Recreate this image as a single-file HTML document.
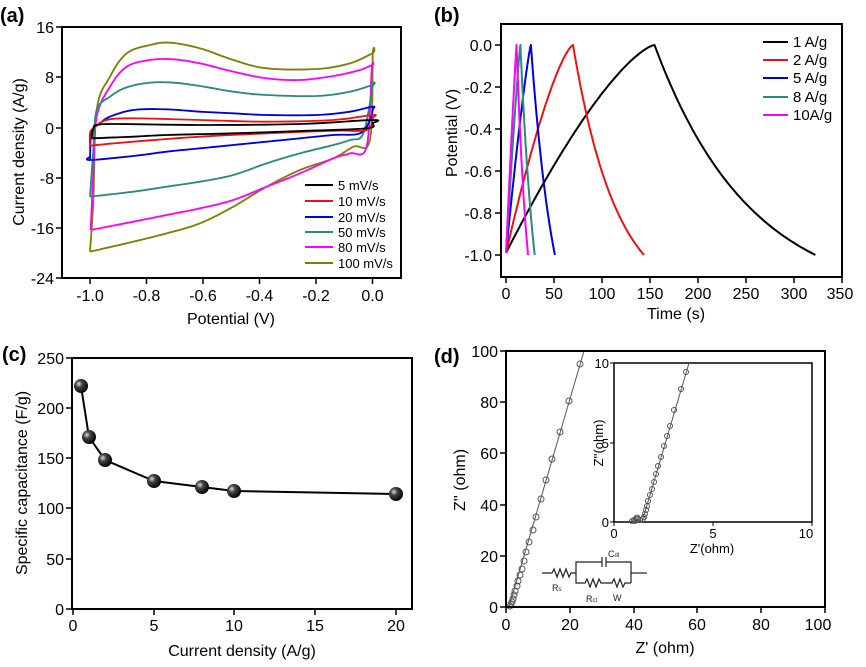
<!DOCTYPE html>
<html><head><meta charset="utf-8"><style>
html,body{margin:0;padding:0;background:#fff;}
svg{display:block;font-family:"Liberation Sans",Arial,sans-serif;}
</style></head><body>
<svg id="s" width="866" height="667" viewBox="0 0 866 667" xmlns="http://www.w3.org/2000/svg">
<!-- ============ (a) ============ -->
<text x="0" y="22" font-size="20" font-weight="bold">(a)</text>
<g fill="none" stroke-linejoin="round" stroke-width="5.5" transform="scale(0.33333)">
<polyline class="sm" stroke="#808000" points="270,755 280,600 290,330 330,230 380,160 450,135 510,128 600,145 700,180 800,205 950,207 1050,190 1118,160 1118,165 1110,420 1060,440 1000,475 900,510 800,560 700,620 600,670 500,700 400,725 270,755"/>
<polyline class="sm" stroke="#ff00ff" points="272,690 280,520 290,350 330,260 380,200 450,180 520,178 600,190 700,215 800,235 900,240 1000,228 1080,210 1118,195 1115,210 1100,440 1050,460 1000,475 900,520 800,560 700,600 600,625 500,645 400,665 272,690"/>
<polyline class="sm" stroke="#2a8a80" points="270,590 280,450 290,330 330,290 380,262 450,248 520,248 600,258 700,275 800,285 950,288 1050,275 1118,255 1118,260 1090,400 1050,420 1000,435 900,460 800,490 700,525 600,545 500,560 400,575 270,590"/>
<polyline class="sm" stroke="#0000dd" points="270,480 275,395 300,370 330,350 400,330 500,328 600,335 700,340 800,345 950,345 1050,335 1118,320 1118,330 1110,360 1080,400 1000,405 900,415 800,425 700,435 600,445 500,455 400,468 270,480 270,470"/>
<polyline class="sm" stroke="#ee1111" points="270,437 270,400 280,385 320,360 400,355 600,360 800,365 1000,360 1118,345 1118,355 1100,390 1000,392 800,400 600,410 400,425 270,437"/>
<polyline class="sm" stroke="#000" points="275,415 280,385 290,375 350,372 600,375 900,372 1118,360 1118,370 1100,385 900,393 700,400 500,405 400,410 275,415"/>
</g>
<rect x="62" y="27" width="339" height="251" fill="none" stroke="#000" stroke-width="2"/>
<g stroke="#000" stroke-width="1.5">
<line x1="62" y1="27" x2="56" y2="27"/><line x1="62" y1="77" x2="56" y2="77"/><line x1="62" y1="128" x2="56" y2="128"/><line x1="62" y1="178" x2="56" y2="178"/><line x1="62" y1="228" x2="56" y2="228"/><line x1="62" y1="278" x2="56" y2="278"/>
<line x1="90" y1="278" x2="90" y2="284"/><line x1="146.5" y1="278" x2="146.5" y2="284"/><line x1="203" y1="278" x2="203" y2="284"/><line x1="259.5" y1="278" x2="259.5" y2="284"/><line x1="316" y1="278" x2="316" y2="284"/><line x1="372.5" y1="278" x2="372.5" y2="284"/>
</g>
<g font-size="16" text-anchor="end">
<text x="54" y="33">16</text><text x="54" y="83">8</text><text x="54" y="134">0</text><text x="54" y="184">-8</text><text x="54" y="234">-16</text><text x="54" y="284">-24</text>
</g>
<g font-size="16" text-anchor="middle">
<text x="90" y="301">-1.0</text><text x="146.5" y="301">-0.8</text><text x="203" y="301">-0.6</text><text x="259.5" y="301">-0.4</text><text x="316" y="301">-0.2</text><text x="372.5" y="301">0.0</text>
<text x="231" y="324">Potential (V)</text>
<text transform="translate(24,152) rotate(-90)">Current density (A/g)</text>
</g>
<g stroke-width="2">
<line x1="305" y1="185" x2="333" y2="185" stroke="#000"/><line x1="305" y1="201" x2="333" y2="201" stroke="#ee1111"/><line x1="305" y1="217" x2="333" y2="217" stroke="#0000dd"/><line x1="305" y1="232" x2="333" y2="232" stroke="#2a8a80"/><line x1="305" y1="247" x2="333" y2="247" stroke="#ff00ff"/><line x1="305" y1="263" x2="333" y2="263" stroke="#808000"/>
</g>
<g font-size="13">
<text x="338" y="190">5 mV/s</text><text x="338" y="206">10 mV/s</text><text x="338" y="222">20 mV/s</text><text x="338" y="237">50 mV/s</text><text x="338" y="252">80 mV/s</text><text x="338" y="268">100 mV/s</text>
</g>

<!-- ============ (b) ============ -->
<text x="434" y="22" font-size="20" font-weight="bold">(b)</text>
<g fill="none" stroke-width="2" stroke-linejoin="round">
<polyline id="gb0" stroke="#000" points="506,253 654,45 817,254"/>
<polyline id="gb1" stroke="#ee1111" points="506,253 573,45 644,253"/>
<polyline id="gb2" stroke="#0000dd" points="506,253 531,45 552,253"/>
<polyline id="gb3" stroke="#2a8a80" points="506,253 521,45 535,253"/>
<polyline id="gb4" stroke="#ff00ff" points="506,253 516.5,45 528,253"/>
</g>
<rect x="501" y="24" width="341" height="253" fill="none" stroke="#000" stroke-width="2"/>
<g stroke="#000" stroke-width="1.5">
<line x1="501" y1="45" x2="495" y2="45"/><line x1="501" y1="87" x2="495" y2="87"/><line x1="501" y1="129" x2="495" y2="129"/><line x1="501" y1="171" x2="495" y2="171"/><line x1="501" y1="213" x2="495" y2="213"/><line x1="501" y1="255" x2="495" y2="255"/>
<line x1="506" y1="277" x2="506" y2="283"/><line x1="554" y1="277" x2="554" y2="283"/><line x1="602" y1="277" x2="602" y2="283"/><line x1="650" y1="277" x2="650" y2="283"/><line x1="698" y1="277" x2="698" y2="283"/><line x1="746" y1="277" x2="746" y2="283"/><line x1="794" y1="277" x2="794" y2="283"/><line x1="842" y1="277" x2="842" y2="283"/>
</g>
<g font-size="16" text-anchor="end">
<text x="492" y="51">0.0</text><text x="492" y="93">-0.2</text><text x="492" y="135">-0.4</text><text x="492" y="177">-0.6</text><text x="492" y="219">-0.8</text><text x="492" y="261">-1.0</text>
</g>
<g font-size="16" text-anchor="middle">
<text x="506" y="299">0</text><text x="554" y="299">50</text><text x="602" y="299">100</text><text x="650" y="299">150</text><text x="698" y="299">200</text><text x="746" y="299">250</text><text x="794" y="299">300</text><text x="840" y="299">350</text>
<text x="676" y="319">Time (s)</text>
<text transform="translate(457,133) rotate(-90)">Potential (V)</text>
</g>
<g stroke-width="2">
<line x1="763" y1="42" x2="788" y2="42" stroke="#000"/><line x1="763" y1="60" x2="788" y2="60" stroke="#ee1111"/><line x1="763" y1="78" x2="788" y2="78" stroke="#0000dd"/><line x1="763" y1="97" x2="788" y2="97" stroke="#2a8a80"/><line x1="763" y1="115" x2="788" y2="115" stroke="#ff00ff"/>
</g>
<g font-size="15">
<text x="793" y="47">1 A/g</text><text x="793" y="65">2 A/g</text><text x="793" y="83">5 A/g</text><text x="793" y="102">8 A/g</text><text x="793" y="120">10A/g</text>
</g>

<!-- ============ (c) ============ -->
<text x="2" y="361" font-size="20" font-weight="bold">(c)</text>
<defs><radialGradient id="ball" cx="0.35" cy="0.35" r="0.7"><stop offset="0" stop-color="#ddd"/><stop offset="0.35" stop-color="#444"/><stop offset="1" stop-color="#000"/></radialGradient></defs>
<polyline fill="none" stroke="#000" stroke-width="2" points="81,386 89,437 105,460 154,481 202,487 234,491 396,494"/>
<g fill="url(#ball)">
<circle cx="81" cy="386" r="7"/><circle cx="89" cy="437" r="7"/><circle cx="105" cy="460" r="7"/><circle cx="154" cy="481" r="7"/><circle cx="202" cy="487" r="7"/><circle cx="234" cy="491" r="7"/><circle cx="396" cy="494" r="7"/>
</g>
<rect x="72" y="358" width="340" height="251" fill="none" stroke="#000" stroke-width="2"/>
<g stroke="#000" stroke-width="1.5">
<line x1="72" y1="358" x2="66" y2="358"/><line x1="72" y1="408" x2="66" y2="408"/><line x1="72" y1="458" x2="66" y2="458"/><line x1="72" y1="508" x2="66" y2="508"/><line x1="72" y1="559" x2="66" y2="559"/><line x1="72" y1="609" x2="66" y2="609"/>
<line x1="73" y1="609" x2="73" y2="615"/><line x1="154" y1="609" x2="154" y2="615"/><line x1="234" y1="609" x2="234" y2="615"/><line x1="315" y1="609" x2="315" y2="615"/><line x1="396" y1="609" x2="396" y2="615"/>
</g>
<g font-size="16" text-anchor="end">
<text x="64" y="364">250</text><text x="64" y="414">200</text><text x="64" y="464">150</text><text x="64" y="514">100</text><text x="64" y="565">50</text><text x="64" y="615">0</text>
</g>
<g font-size="16" text-anchor="middle">
<text x="73" y="631">0</text><text x="154" y="631">5</text><text x="234" y="631">10</text><text x="315" y="631">15</text><text x="396" y="631">20</text>
<text x="242" y="656">Current density (A/g)</text>
<text transform="translate(27,483) rotate(-90)">Specific capacitance (F/g)</text>
</g>

<!-- ============ (d) ============ -->
<text x="434" y="363" font-size="20" font-weight="bold">(d)</text>
<line x1="509" y1="607" x2="584" y2="351" stroke="#555" stroke-width="1"/>
<g fill="none" stroke="#555" stroke-width="1">
<circle cx="580" cy="364" r="3"/><circle cx="569" cy="401" r="3"/><circle cx="560" cy="432" r="3"/><circle cx="552" cy="459" r="3"/><circle cx="546" cy="480" r="3"/><circle cx="541" cy="499" r="3"/><circle cx="536" cy="517" r="3"/><circle cx="533" cy="530" r="3"/><circle cx="529" cy="542" r="3"/><circle cx="526" cy="552" r="3"/><circle cx="524" cy="561" r="3"/><circle cx="522" cy="569" r="3"/><circle cx="520" cy="575" r="3"/><circle cx="518" cy="581" r="3"/><circle cx="517" cy="586" r="3"/><circle cx="515" cy="591" r="3"/><circle cx="514" cy="595" r="3"/><circle cx="513" cy="599" r="3"/><circle cx="512" cy="602" r="3"/><circle cx="511" cy="604" r="3"/><circle cx="510" cy="606" r="3"/>
</g>
<rect x="506" y="351" width="319" height="256" fill="none" stroke="#000" stroke-width="2"/>
<g stroke="#000" stroke-width="1.5">
<line x1="506" y1="351" x2="500" y2="351"/><line x1="506" y1="402" x2="500" y2="402"/><line x1="506" y1="453" x2="500" y2="453"/><line x1="506" y1="505" x2="500" y2="505"/><line x1="506" y1="556" x2="500" y2="556"/><line x1="506" y1="607" x2="500" y2="607"/>
<line x1="506" y1="607" x2="506" y2="613"/><line x1="570" y1="607" x2="570" y2="613"/><line x1="634" y1="607" x2="634" y2="613"/><line x1="697" y1="607" x2="697" y2="613"/><line x1="761" y1="607" x2="761" y2="613"/><line x1="825" y1="607" x2="825" y2="613"/>
</g>
<g font-size="16" text-anchor="end">
<text x="498" y="357">100</text><text x="498" y="408">80</text><text x="498" y="459">60</text><text x="498" y="511">40</text><text x="498" y="562">20</text><text x="498" y="613">0</text>
</g>
<g font-size="16" text-anchor="middle">
<text x="506" y="630">0</text><text x="570" y="630">20</text><text x="634" y="630">40</text><text x="697" y="630">60</text><text x="761" y="630">80</text><text x="818" y="630">100</text>
<text x="665" y="653">Z' (ohm)</text>
<text transform="translate(465,480) rotate(-90)">Z'' (ohm)</text>
</g>
<rect x="614" y="363" width="198" height="159" fill="#fff" stroke="#000" stroke-width="1.5"/>
<line x1="642" y1="522" x2="689" y2="363" stroke="#555" stroke-width="1"/>
<g fill="none" stroke="#555" stroke-width="1">
<circle cx="686" cy="372" r="2.5"/><circle cx="681" cy="389" r="2.5"/><circle cx="674" cy="410" r="2.5"/><circle cx="670" cy="426" r="2.5"/><circle cx="667" cy="436" r="2.5"/><circle cx="664" cy="446" r="2.5"/><circle cx="661" cy="457" r="2.5"/><circle cx="658" cy="466" r="2.5"/><circle cx="656" cy="474" r="2.5"/><circle cx="654" cy="482" r="2.5"/><circle cx="652" cy="489" r="2.5"/><circle cx="650" cy="495" r="2.5"/><circle cx="648" cy="501" r="2.5"/><circle cx="647" cy="506" r="2.5"/><circle cx="646" cy="510" r="2.5"/><circle cx="645" cy="514" r="2.5"/><circle cx="644" cy="517" r="2.5"/><circle cx="643" cy="519" r="2.5"/>
<circle cx="634" cy="520" r="2.5"/><circle cx="636" cy="519" r="2.5"/><circle cx="638" cy="519" r="2.5"/><circle cx="640" cy="520" r="2.5"/><circle cx="635" cy="521" r="2.5"/><circle cx="632" cy="521" r="2.5"/><circle cx="637" cy="518" r="3"/>
</g>
<g stroke="#000" stroke-width="1">
<line x1="614" y1="363" x2="610" y2="363"/><line x1="614" y1="443" x2="610" y2="443"/><line x1="614" y1="522" x2="610" y2="522"/>
<line x1="614" y1="522" x2="614" y2="526"/><line x1="713" y1="522" x2="713" y2="526"/><line x1="812" y1="522" x2="812" y2="526"/>
</g>
<g font-size="13" text-anchor="end">
<text x="609" y="368">10</text><text x="609" y="448">5</text><text x="609" y="527">0</text>
</g>
<g font-size="13" text-anchor="middle">
<text x="614" y="538">0</text><text x="713" y="538">5</text><text x="806" y="538">10</text>
<text x="712" y="553">Z'(ohm)</text>
<text transform="translate(603,443) rotate(-90)">Z''(ohm)</text>
</g>
<g fill="none" stroke="#222" stroke-width="1.2">
<polyline points="542,573 552,573 554,569 557,577 560,569 563,577 566,569 569,577 571,573 576,573"/>
<polyline points="576,573 576,562 602,562"/><line x1="602" y1="557" x2="602" y2="567"/><line x1="606" y1="557" x2="606" y2="567"/>
<polyline points="606,562 631,562 631,583"/>
<polyline points="576,573 576,583 585,583 587,579 590,587 593,579 596,587 599,579 601,583 612,583 614,579 617,587 620,579 623,587 625,583 631,583"/>
<polyline points="631,573 647,573"/>
</g>
<g font-size="9" fill="#222">
<text x="552" y="591">R<tspan font-size="6">s</tspan></text>
<text x="608" y="557">C<tspan font-size="6">dl</tspan></text>
<text x="586" y="602">R<tspan font-size="6">ct</tspan></text>
<text x="613" y="601">W</text>
</g>
</svg>
<script>
(function(){
// GCD curves: X=506+0.958t, Y=45-210v
function X(t){return 506+0.958*t;} function Y(v){return 45-210*v;}
var specs=[[155,323,1.4,0.01],[70,144,1.4,0.022],[26,51,1.2,0.04],[15,30,1.15,0.06],[11,23,1.1,0.08]];
specs.forEach(function(s,i){
  var tc=s[0],te=s[1],p=s[2],k=s[3],pts=[],n=60,j,t,v;
  for(j=0;j<=n;j++){t=tc*j/n;v=-Math.pow(1-t/tc,p)*0.99;pts.push(X(t).toFixed(1)+","+Y(v).toFixed(1));}
  var d=te-tc,den=1-Math.exp(-k*d);
  for(j=1;j<=n;j++){var u=d*j/n;v=-(1-Math.exp(-k*u))/den;t=tc+u;pts.push(X(t).toFixed(1)+","+Y(v).toFixed(1));}
  document.getElementById("gb"+i).setAttribute("points",pts.join(" "));
});
// smooth CV polylines (Catmull-Rom)
var pls=document.querySelectorAll("polyline.sm");
for(var q=0;q<pls.length;q++){
  var pl=pls[q],a=pl.getAttribute("points").trim().split(/\s+/).map(function(s){return s.split(",").map(Number);});
  var out=[];
  for(var i=0;i<a.length-1;i++){
    var p0=a[Math.max(i-1,0)],p1=a[i],p2=a[i+1],p3=a[Math.min(i+2,a.length-1)];
    for(var m=0;m<8;m++){var tt=m/8,t2=tt*tt,t3=t2*tt;
      var x=0.5*((2*p1[0])+(-p0[0]+p2[0])*tt+(2*p0[0]-5*p1[0]+4*p2[0]-p3[0])*t2+(-p0[0]+3*p1[0]-3*p2[0]+p3[0])*t3);
      var y=0.5*((2*p1[1])+(-p0[1]+p2[1])*tt+(2*p0[1]-5*p1[1]+4*p2[1]-p3[1])*t2+(-p0[1]+3*p1[1]-3*p2[1]+p3[1])*t3);
      out.push(x.toFixed(1)+","+y.toFixed(1));}
  }
  out.push(a[a.length-1].join(","));
  pl.setAttribute("points",out.join(" "));
}
})();
</script>
</body></html>
